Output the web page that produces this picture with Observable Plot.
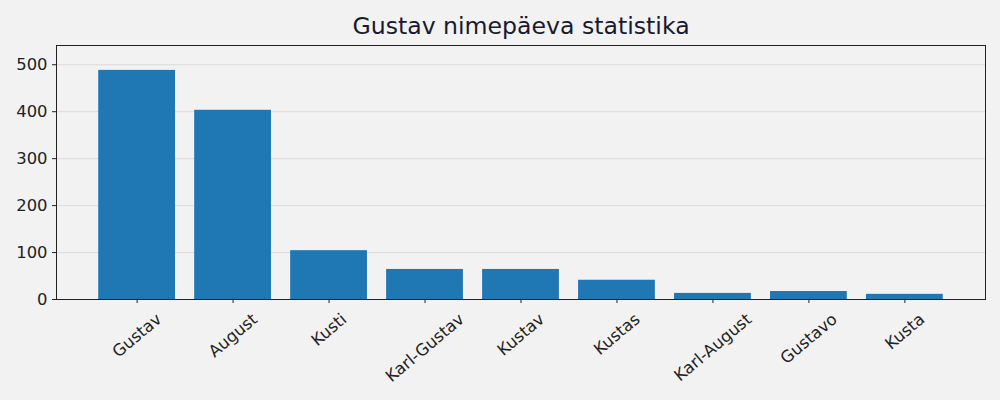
<!DOCTYPE html>
<html>
<head>
<meta charset="utf-8">
<script src="https://cdn.jsdelivr.net/npm/d3@7"></script>
<script src="https://cdn.jsdelivr.net/npm/@observablehq/plot@0.6"></script>
<style>
  html, body { margin: 0; padding: 0; background: #f2f2f2; }
  #chart svg { display: block; }
</style>
</head>
<body>
<div id="chart"></div>
<script>
const names = ["Gustav", "August", "Kusti", "Karl-Gustav", "Kustav", "Kustas", "Karl-August", "Gustavo", "Kusta"];
const counts = [488, 403, 104, 64, 64, 41, 13, 17, 11];
const yTicks = [0, 100, 200, 300, 400, 500];
const title = "Gustav nimepäeva statistika";

const data = names.map((name, i) => ({name, count: counts[i]}));

const font = "DejaVu Sans";
const tickFont = 16.4;
const ctx = document.createElement("canvas").getContext("2d");
ctx.font = `${tickFont}px "${font}"`;
const ang = 40 * Math.PI / 180;

const labelMarks = names.map(name => {
  const L = ctx.measureText(name).width;
  const h = L * Math.sin(ang) + 0.72 * tickFont * Math.cos(ang);
  return Plot.text([name], {
    x: d => d, text: d => d,
    frameAnchor: "bottom",
    rotate: -40,
    textAnchor: "middle",
    lineAnchor: "middle",
    dy: 13 + h / 2,
    fontSize: tickFont,
    fill: "#222"
  });
});

const chart = Plot.plot({
  width: 1000,
  height: 400,
  marginLeft: 56,
  marginRight: 15,
  marginTop: 45,
  marginBottom: 101,
  style: {background: "#f2f2f2", fontFamily: font, color: "#222"},
  x: {domain: names, paddingInner: 0.2, paddingOuter: 0.44, align: 0.5, round: false, label: null},
  y: {domain: [0, 541], label: null},
  marks: [
    Plot.gridY(yTicks.slice(1), {stroke: "#d4d4d4", strokeOpacity: 1, strokeWidth: 0.8}),
    Plot.barY(data, {x: "name", y: "count", fill: "#1f77b4"}),
    Plot.frame({stroke: "#222", strokeWidth: 1}),
    Plot.axisY(yTicks, {tickSize: 4, tickPadding: 5, fontSize: tickFont, label: null, stroke: "#222", fill: "#222"}),
    Plot.axisX({tickSize: 4, tickFormat: () => "", label: null, stroke: "#222"}),
    ...labelMarks,
    Plot.text([title], {text: d => d, frameAnchor: "top", lineAnchor: "middle", dy: -19, fontSize: 23.6, fill: "#1a1a2e"})
  ]
});
document.getElementById("chart").appendChild(chart);
</script>
</body>
</html>
